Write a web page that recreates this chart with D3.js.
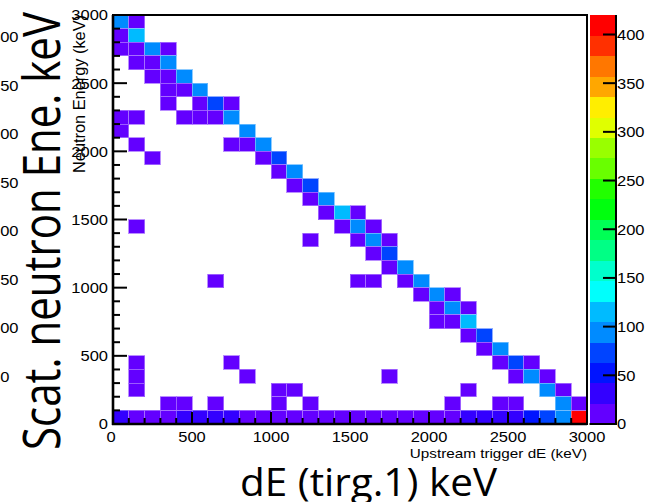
<!DOCTYPE html>
<html>
<head>
<meta charset="utf-8">
<script src="https://cdn.jsdelivr.net/npm/d3@7"></script>
<style>
  html, body { margin: 0; padding: 0; background: #fff; }
  svg { display: block; }
</style>
</head>
<body>
<svg id="chart" width="650" height="502"></svg>
<script>
// Tick values for the three axes
const xTicks = [0, 500, 1000, 1500, 2000, 2500, 3000];
const yTicks = [0, 500, 1000, 1500, 2000, 2500, 3000];
const zTicks = [0, 50, 100, 150, 200, 250, 300, 350, 400];
const binWidth = 100; // keV per bin on both axes

// Counts in the lowest neutron-energy row (0-100 keV), one per dE bin from 0 to 3000 keV
const baselineCounts = [30, 16, 15, 18, 28, 32, 35, 30, 17, 15, 16, 18, 14, 15, 13,
                        16, 15, 14, 17, 15, 16, 18, 27, 31, 33, 29, 55, 76, 98, 420];

// Remaining filled bins: [dE lower edge (keV), neutron energy lower edge (keV), counts]
const cells = [
  [0, 2900, 95], [100, 2900, 8],
  [0, 2800, 9], [100, 2800, 118],
  [0, 2700, 12], [100, 2700, 14], [200, 2700, 92], [300, 2700, 7],
  [100, 2600, 13], [200, 2600, 16], [300, 2600, 96],
  [200, 2500, 15], [300, 2500, 17], [400, 2500, 94],
  [300, 2400, 16], [400, 2400, 14], [500, 2400, 97],
  [300, 2300, 11], [500, 2300, 13], [600, 2300, 74], [700, 2300, 9],
  [0, 2200, 6], [100, 2200, 5], [400, 2200, 10], [500, 2200, 12], [600, 2200, 15], [700, 2200, 93],
  [0, 2100, 7], [800, 2100, 98],
  [100, 2000, 5], [700, 2000, 11], [800, 2000, 13], [900, 2000, 95],
  [200, 1900, 6], [900, 1900, 16], [1000, 1900, 76],
  [1000, 1800, 17], [1100, 1800, 96],
  [1100, 1700, 15], [1200, 1700, 72],
  [1200, 1600, 18], [1300, 1600, 94],
  [1300, 1500, 16], [1400, 1500, 117], [1500, 1500, 12],
  [100, 1400, 5], [1400, 1400, 14], [1500, 1400, 92], [1600, 1400, 9],
  [1200, 1300, 6], [1500, 1300, 11], [1600, 1300, 95], [1700, 1300, 13],
  [1600, 1200, 17], [1700, 1200, 73],
  [1700, 1100, 15], [1800, 1100, 91],
  [600, 1000, 5], [1500, 1000, 7], [1600, 1000, 8], [1800, 1000, 14], [1900, 1000, 97],
  [1900, 900, 16], [2000, 900, 93], [2100, 900, 12],
  [2000, 800, 13], [2100, 800, 96], [2200, 800, 15],
  [2000, 700, 9], [2100, 700, 11], [2200, 700, 119],
  [2200, 600, 18], [2300, 600, 75],
  [2300, 500, 17], [2400, 500, 94],
  [100, 400, 6], [700, 400, 5], [2400, 400, 14], [2500, 400, 71], [2600, 400, 12],
  [100, 300, 7], [800, 300, 6], [1700, 300, 5], [2500, 300, 13], [2600, 300, 92], [2700, 300, 15],
  [100, 200, 6], [1000, 200, 8], [1100, 200, 7], [2200, 200, 6], [2700, 200, 97], [2800, 200, 14],
  [300, 100, 9], [400, 100, 11], [600, 100, 7], [1000, 100, 8], [1200, 100, 6], [2100, 100, 9],
  [2400, 100, 10], [2500, 100, 12], [2800, 100, 99], [2900, 100, 17]
];

// Palette-axis labels of the neighbouring panel, partly cut by the left edge
const sideLabels = ["400", "350", "300", "250", "200", "150", "100", "50"];

const svg = d3.select("#chart");
svg.append("rect").attr("width", 650).attr("height", 502).attr("fill", "#fff");

// Plot frame geometry
const L = 113, R = 587, T = 15, B = 424;
const x = d3.scaleLinear().domain([0, 3000]).range([L, R]);
const y = d3.scaleLinear().domain([0, 3000]).range([B, T]);

// Build all bins
const bins = baselineCounts.map((n, i) => [i * binWidth, 0, n]).concat(cells);
const zMax = d3.max(bins, d => d[2]);

// Rainbow palette: 50 hues from violet to red, sampled at 20 contour levels
const nLevels = 20;
const palette = d3.range(50).map(i => d3.hsl(280 - (i + 1) * 5.6, 1, 0.5).formatHex());
const levelColors = d3.range(nLevels).map(k => palette[Math.floor((k + 0.99) * 50 / nLevels)]);
const zColor = d3.scaleQuantize().domain([0, zMax]).range(levelColors);

const sans = "'Liberation Sans', Arial, Helvetica, sans-serif";
const stretch = 1.1;
function widen(sel, f) {
  sel.each(function () {
    const w = this.getComputedTextLength();
    this.setAttribute("textLength", (w * f).toFixed(2));
    this.setAttribute("lengthAdjust", "spacingAndGlyphs");
  });
}

// Histogram cells
svg.append("g").selectAll("rect").data(bins.filter(d => d[2] > 0)).join("rect")
  .attr("x", d => x(d[0]))
  .attr("y", d => y(d[1] + binWidth))
  .attr("width", d => x(d[0] + binWidth) - x(d[0]))
  .attr("height", d => y(d[1]) - y(d[1] + binWidth))
  .attr("fill", d => zColor(d[2]))
  .attr("stroke", d => d3.interpolateRgb(zColor(d[2]), "#fff")(0.45))
  .attr("stroke-width", 0.8)
  .attr("shape-rendering", "crispEdges");

// Frame
svg.append("rect").attr("x", L).attr("y", T).attr("width", R - L).attr("height", B - T)
  .attr("fill", "none").attr("stroke", "#000").attr("stroke-width", 2);

const axes = svg.append("g").attr("stroke", "#000");
axes.append("line").attr("x1", L).attr("x2", L).attr("y1", T).attr("y2", B + 1).attr("stroke-width", 2.6);
axes.append("line").attr("x1", L - 1).attr("x2", R).attr("y1", B).attr("y2", B).attr("stroke-width", 2.6);

const minor = d3.range(0, 3001, binWidth);
// Left axis ticks
axes.selectAll(".yt").data(minor).join("line")
  .attr("x1", L).attr("x2", d => L + (d % 500 === 0 ? 14 : 7))
  .attr("y1", d => y(d)).attr("y2", d => y(d)).attr("stroke-width", 2);
// Bottom axis ticks
axes.selectAll(".xt").data(minor).join("line")
  .attr("y1", B).attr("y2", d => B - (d % 500 === 0 ? 12 : 6))
  .attr("x1", d => x(d)).attr("x2", d => x(d)).attr("stroke-width", 2);

const yLab = svg.append("g").selectAll("text").data(yTicks).join("text")
  .attr("x", 108).attr("y", d => y(d)).attr("dy", "0.36em")
  .attr("text-anchor", "end").attr("font-family", sans).attr("font-size", 15)
  .text(d => d);
widen(yLab, stretch);

const xLab = svg.append("g").selectAll("text").data(xTicks).join("text")
  .attr("x", d => x(d) - (d === 0 ? 2 : 0)).attr("y", 441.5)
  .attr("text-anchor", "middle").attr("font-family", sans).attr("font-size", 15)
  .text(d => d);
widen(xLab, stretch);

// Axis titles
const xt = svg.append("text").attr("x", R).attr("y", 458).attr("text-anchor", "end")
  .attr("font-family", sans).attr("font-size", 13.5).text("Upstream trigger dE (keV)");
widen(xt, 1.13);

svg.append("text")
  .attr("transform", "translate(84.5,15) scale(1.13,1) rotate(-90)")
  .attr("text-anchor", "end").attr("font-family", sans).attr("font-size", 15)
  .attr("textLength", 158).attr("lengthAdjust", "spacingAndGlyphs")
  .text("Neutron Energy (keV)");

// Colour scale bar
const CL = 589.5, CR = 616;
const zy = d3.scaleLinear().domain([0, zMax]).range([B, T]);
const step = zMax / nLevels;
svg.append("g").selectAll("rect").data(levelColors).join("rect")
  .attr("x", CL).attr("width", CR - CL)
  .attr("y", (c, k) => zy((k + 1) * step))
  .attr("height", (c, k) => zy(k * step) - zy((k + 1) * step) + 0.3)
  .attr("fill", c => c).attr("shape-rendering", "crispEdges");
svg.append("line").attr("x1", CR).attr("x2", CR).attr("y1", T).attr("y2", B + 1)
  .attr("stroke", "#000").attr("stroke-width", 2);
svg.append("line").attr("x1", CL).attr("x2", CR).attr("y1", B).attr("y2", B)
  .attr("stroke", "#000").attr("stroke-width", 2);
svg.append("g").selectAll("line").data(zTicks).join("line")
  .attr("x1", CR).attr("x2", CR - 13).attr("y1", d => zy(d)).attr("y2", d => zy(d))
  .attr("stroke", "#000").attr("stroke-width", 2);
const zLab = svg.append("g").selectAll("text").data(zTicks).join("text")
  .attr("x", CR + 1).attr("y", d => zy(d)).attr("dy", "0.36em")
  .attr("font-family", sans).attr("font-size", 15).text(d => d);
widen(zLab, stretch);

// Neighbouring panel's palette labels at the left edge
const side = svg.append("g").selectAll("text").data(sideLabels).join("text")
  .attr("x", -9).attr("y", (d, i) => 37 + i * 48.5).attr("dy", "0.36em")
  .attr("font-family", sans).attr("font-size", 15).text(d => d);
widen(side, stretch);

// Slide captions
const big = "'Open Sans', 'Noto Sans', sans-serif";
svg.append("text")
  .attr("transform", "translate(60,450) scale(1.15,1) rotate(-90)")
  .attr("font-family", big).attr("font-size", 44)
  .attr("textLength", 438).attr("lengthAdjust", "spacingAndGlyphs")
  .text("Scat. neutron Ene. keV");
svg.append("text")
  .attr("x", 240).attr("y", 496)
  .attr("font-family", big).attr("font-size", 39)
  .attr("textLength", 257).attr("lengthAdjust", "spacingAndGlyphs")
  .text("dE (tirg.1) keV");
</script>
</body>
</html>
